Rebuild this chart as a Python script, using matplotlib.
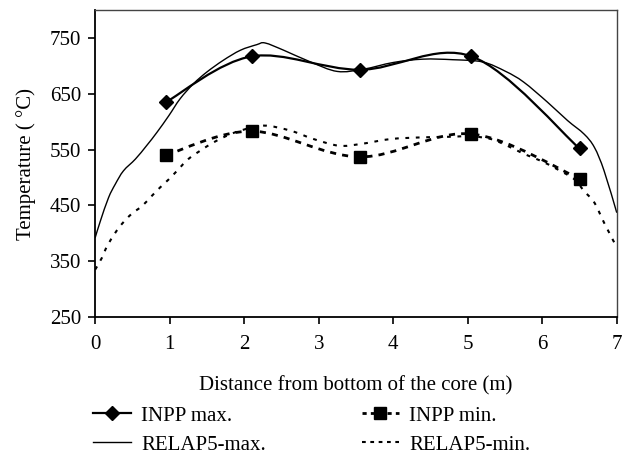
import matplotlib
matplotlib.use("Agg")
import matplotlib.pyplot as plt
from matplotlib.path import Path
from matplotlib.patches import PathPatch
from matplotlib.lines import Line2D

plt.rcParams['font.family'] = ['Liberation Serif', 'DejaVu Serif']

# measured points (INPP)
inpp_x = [0.95, 2.1, 3.55, 5.05, 6.5]
inpp_max = [635, 717, 693, 717, 552]
inpp_min = [540, 583, 537, 578, 498]

# RELAP5 calculated profiles
relap_max_x = [0.0, 0.07, 0.18, 0.27, 0.38, 0.54, 0.69, 0.83, 0.99, 1.14, 1.32, 1.50,
               1.72, 1.95, 2.17, 2.28, 2.53, 2.89, 3.25, 3.6, 4.0, 4.4, 4.8, 5.2,
               5.51, 5.75, 6.07, 6.34, 6.56, 6.70, 6.83, 7.0]
relap_max = [392, 422, 464, 488, 512, 533, 557, 581, 611, 641, 668, 689,
             710, 728, 738, 741, 728, 707, 690, 694, 706, 712, 711, 707,
             690, 671, 635, 602, 578, 554, 512, 437]

relap_min_x = [0.0, 0.09, 0.16, 0.27, 0.36, 0.49, 0.63, 0.76, 0.87, 0.99, 1.12, 1.25,
               1.41, 1.59, 1.77, 1.95, 2.26, 2.62, 2.93, 3.27, 3.56, 3.97, 4.41,
               4.77, 5.04, 5.31, 5.53, 5.76, 5.98, 6.20, 6.43, 6.56, 6.70, 6.83, 7.0]
relap_min = [335, 356, 377, 401, 417, 435, 449, 467, 482, 497, 515, 533,
             548, 563, 575, 584, 593, 584, 569, 557, 560, 569, 572,
             573, 574, 569, 557, 542, 530, 515, 497, 476, 455, 419, 375]

xticks = [0, 1, 2, 3, 4, 5, 6, 7]
yticks = [250, 350, 450, 550, 650, 750]


def smooth_path(xs, ys):
    # Catmull-Rom style smoothing, like a spreadsheet "smoothed line"
    pts = list(zip(xs, ys))
    verts = [pts[0]]
    codes = [Path.MOVETO]
    n = len(pts)
    for i in range(n - 1):
        p0 = pts[i - 1] if i > 0 else pts[i]
        p1 = pts[i]
        p2 = pts[i + 1]
        p3 = pts[i + 2] if i + 2 < n else pts[i + 1]
        c1 = (p1[0] + (p2[0] - p0[0]) / 6, p1[1] + (p2[1] - p0[1]) / 6)
        c2 = (p2[0] - (p3[0] - p1[0]) / 6, p2[1] - (p3[1] - p1[1]) / 6)
        verts += [c1, c2, p2]
        codes += [Path.CURVE4] * 3
    return Path(verts, codes)


fig = plt.figure(figsize=(6.3, 4.55), dpi=100)
ax = fig.add_axes([0.151, 0.303, 0.828, 0.675])

styles = {
    'inpp_max': dict(color='black', lw=1.6, ls='-'),
    'relap_max': dict(color='black', lw=1.0, ls='-'),
    'inpp_min': dict(color='black', lw=2.0, ls=(0, (2.2, 2.2))),
    'relap_min': dict(color='black', lw=1.5, ls=(0, (1.8, 3.2))),
}

for key, xs, ys in [('relap_max', relap_max_x, relap_max),
                    ('relap_min', relap_min_x, relap_min),
                    ('inpp_max', inpp_x, inpp_max),
                    ('inpp_min', inpp_x, inpp_min)]:
    st = styles[key]
    ax.add_patch(PathPatch(smooth_path(xs, ys), fill=False, edgecolor=st['color'],
                           lw=st['lw'], ls=st['ls'], capstyle='butt', zorder=2))

ax.plot(inpp_x, inpp_max, ls='none', marker='D', ms=7, color='black', zorder=3)
ax.plot(inpp_x, inpp_min, ls='none', marker='s', ms=9, color='black', zorder=3)

ax.set_xlim(0, 7)
ax.set_ylim(250, 800)
ax.set_xticks(xticks)
ax.set_yticks(yticks)
ax.tick_params(axis='both', labelsize=15, direction='out', length=5, width=1.2,
               colors='black', pad=5)
ax.tick_params(axis='x', pad=8)
for s in ['left', 'bottom']:
    ax.spines[s].set_linewidth(1.3)
for s in ['top', 'right']:
    ax.spines[s].set_linewidth(1.0)
    ax.spines[s].set_color('#444444')

ax.set_xlabel('Distance from bottom of the core (m)', fontsize=15, labelpad=16)
ax.set_ylabel('Temperature ( °C)', fontsize=15, labelpad=10)

handles = [
    Line2D([], [], color='black', lw=1.6, marker='D', ms=7),
    Line2D([], [], color='black', lw=1.0),
    Line2D([], [], color='black', lw=2.0, ls=(0, (1.5, 1.5)), marker='s', ms=9),
    Line2D([], [], color='black', lw=1.5, ls=(0, (1.8, 2.2))),
]
labels = ['INPP max.', 'RELAP5-max.', 'INPP min.', 'RELAP5-min.']
fig.legend(handles, labels, loc='upper left', bbox_to_anchor=(93 / 630, 1 - 406 / 455),
           ncol=2, frameon=False, fontsize=15, columnspacing=4.6, handlelength=1.8,
           labelspacing=0.45, handletextpad=0.5, borderpad=0, borderaxespad=0)

fig.savefig('out.png', dpi=100)
